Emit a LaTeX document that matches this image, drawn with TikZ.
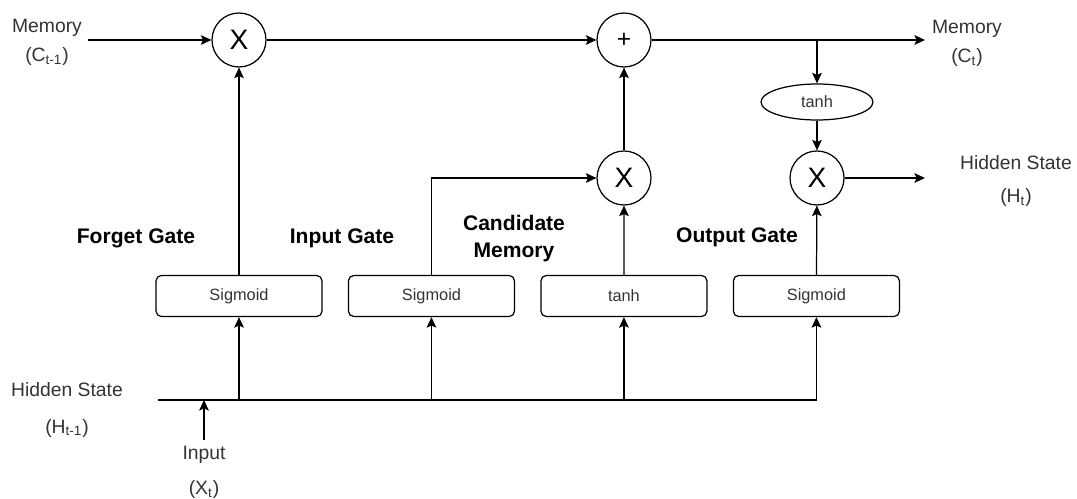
\documentclass[tikz,border=0pt]{standalone}
\usepackage{fontspec}
\setmainfont{Liberation Sans}
\usetikzlibrary{positioning, arrows.meta, shapes.geometric}

\begin{document}
\begin{tikzpicture}[->,>={Stealth[length=6pt,width=5.5pt,inset=1.2pt]},line width=0.7pt,
            x=0.02cm,y=-0.02cm,node distance=3.85cm]
            \tikzstyle{op}=[circle,draw,minimum size=1.08cm,inner sep=0pt,
                font=\fontsize{16}{18}\selectfont]
            \tikzstyle{layer}=[draw,rounded corners=3pt,minimum width=3.32cm,
                minimum height=0.82cm,font=\fontsize{9.3}{11}\selectfont,text=black!80]
            \tikzstyle{lbl}=[align=center,font=\fontsize{11}{13.5}\selectfont,text=black!80]
            \tikzstyle{gate}=[align=center,font=\fontsize{12}{14.4}\selectfont\bfseries]

            \useasboundingbox (0,0) rectangle (1077,499);

            \node[layer]         (F)                    at (239,296)  {Sigmoid};
            \node[layer]         (I) [right of=F]       {Sigmoid};
            \node[layer]         (C) [right of=I]       {tanh};
            \node[layer]         (O) [right of=C]       {Sigmoid};

            \node[op]            (fm)  at (239,40)      {X};
            \node[op,font=\fontsize{14}{16}\selectfont] (add) at (624,40) {+};
            \node[op]            (im)  at (624,178)     {X};
            \node[op]            (om)  at (817,178)     {X};
            \node[ellipse,draw,minimum width=2.24cm,minimum height=0.72cm,inner sep=0pt,
                font=\fontsize{9.3}{11}\selectfont,text=black!80] (th) at (817,102) {tanh};

            \coordinate (cin)  at (88,40);
            \coordinate (cout) at (925,40);
            \coordinate (br)   at (817,40);
            \coordinate (hout) at (925,178);
            \coordinate (hin)  at (158,400);
            \coordinate (xin)  at (204,440);

            \node[lbl] (cprev) at (47,42.5)  {Memory\\[3pt](C\textsubscript{t-1})};
            \node[lbl] (cnext) at (967,43)   {Memory\\[3pt](C\textsubscript{t})};
            \node[lbl] (hnext) at (1016,181) {Hidden State\\[5.3pt](H\textsubscript{t})};
            \node[lbl] (hprev) at (67,410)   {Hidden State\\[7pt](H\textsubscript{t-1})};
            \node[lbl] (xcur)  at (204,472)  {Input\\[6.5pt](X\textsubscript{t})};

            \node[gate] (fg) at (136,238)   {Forget Gate};
            \node[gate] (ig) at (342,238)   {Input Gate};
            \node[gate] (cg) at (514,238.5) {Candidate\\[1pt]Memory};
            \node[gate] (og) at (737,237)   {Output Gate};

            \path (cin) edge (fm)
            (fm) edge (add)
            (add) edge (cout)
            (br) edge (th)
            (th) edge (om)
            (om) edge (hout)

            (F) edge (fm)
            (C) edge (im)
            (im) edge (add)
            (O) edge (om)

            (F.south |- hin) edge (F)
            (I.south |- hin) edge (I)
            (C.south |- hin) edge (C)
            (xin) edge (xin |- hin);

            \draw (I) |- (im);
            \draw (hin) -| (O);

        \end{tikzpicture}
\end{document}
